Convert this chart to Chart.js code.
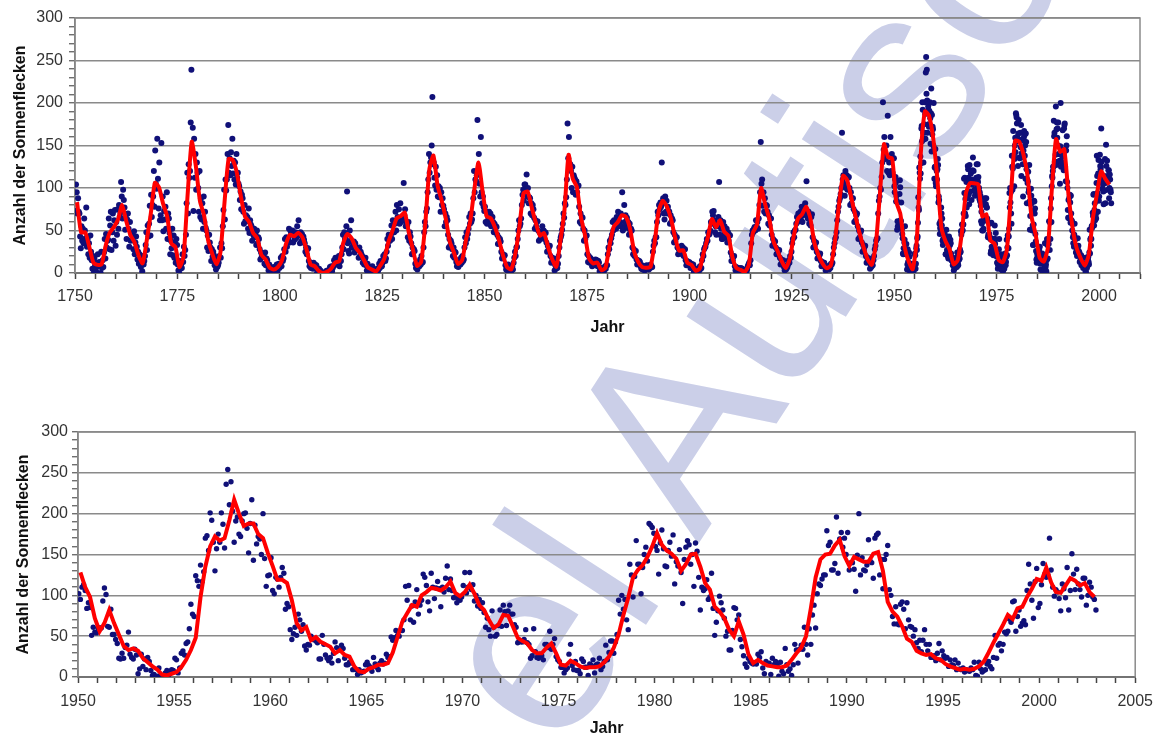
<!DOCTYPE html>
<html lang="de">
<head>
<meta charset="utf-8">
<title>Sonnenflecken 1750–2002</title>
<script src="https://cdn.jsdelivr.net/npm/chart.js@4.4.1/dist/chart.umd.min.js"></script>
<style>
  html, body { margin: 0; padding: 0; background: #fff; }
  #seite { position: relative; width: 1162px; height: 738px; overflow: hidden; }
  #wasserzeichen {
    position: absolute; left: 560px; top: 543px;
    font-family: "Liberation Sans", Arial, sans-serif; font-size: 253px; line-height: 1;
    color: #cbcfe8; white-space: nowrap;
    transform-origin: 0 214px; transform: rotate(-57deg);
  }
  canvas { position: absolute; left: 0; }
  #oben { top: 0; }
  #unten { top: 400px; }
</style>
</head>
<body>
<div id="seite">
  <div id="wasserzeichen">el Autisc</div>
  <canvas id="oben" width="1162" height="345"></canvas>
  <canvas id="unten" width="1162" height="338"></canvas>
</div>
<script>
// Jahresmittel 1750..2002 (rote Linie oben)
const jahresmittel = [
  83.4, 47.7, 47.8, 30.7, 12.2, 9.6, 10.2, 32.4, 47.6, 54.0,
  62.9, 80.0, 61.2, 45.1, 36.4, 20.9, 11.4, 37.8, 69.8, 106.1,
  100.8, 81.6, 66.5, 34.8, 30.6, 7.0, 19.8, 92.5, 154.4, 125.9,
  84.8, 68.1, 38.5, 22.8, 10.2, 24.1, 82.9, 134.0, 133.0, 118.1,
  89.9, 66.6, 60.0, 46.9, 41.0, 21.3, 16.0, 6.4, 4.1, 6.8,
  14.5, 34.0, 45.0, 43.1, 47.5, 42.2, 28.1, 10.1, 8.1, 2.5,
  0.0, 1.4, 5.0, 12.2, 13.9, 35.4, 45.8, 41.0, 30.1, 23.9,
  15.6, 6.6, 4.0, 1.8, 8.5, 16.6, 36.3, 49.6, 64.2, 67.0,
  70.9, 47.8, 27.5, 8.5, 13.2, 56.9, 121.5, 138.3, 103.2, 85.7,
  64.6, 36.7, 24.2, 10.7, 15.0, 40.1, 61.5, 98.5, 130.0, 96.3,
  66.6, 64.5, 54.1, 39.0, 20.6, 6.7, 4.3, 22.7, 54.8, 93.8,
  95.8, 77.2, 59.1, 44.0, 47.0, 30.5, 16.3, 7.3, 37.6, 74.0,
  139.0, 111.2, 101.6, 66.2, 44.7, 17.0, 11.3, 12.4, 3.4, 6.0,
  32.3, 54.3, 59.7, 68.0, 66.0, 52.2, 25.4, 13.1, 6.8, 6.3,
  7.1, 35.6, 73.0, 85.1, 78.0, 64.0, 41.8, 26.2, 26.7, 12.1,
  9.5, 2.7, 5.0, 24.4, 42.0, 63.5, 53.8, 62.0, 48.5, 43.9,
  18.6, 5.7, 3.6, 1.4, 9.6, 47.4, 57.1, 100.0, 80.6, 63.6,
  37.6, 26.1, 14.2, 5.8, 16.7, 44.3, 63.9, 69.0, 77.8, 64.9,
  35.7, 21.2, 11.1, 5.7, 8.7, 36.1, 79.7, 114.4, 109.6, 88.8,
  67.8, 47.5, 30.6, 16.3, 9.6, 33.2, 92.6, 151.6, 136.3, 134.7,
  83.9, 69.4, 31.5, 13.9, 4.4, 38.0, 141.7, 190.2, 184.8, 159.0,
  112.3, 53.9, 37.6, 27.9, 10.2, 15.1, 47.0, 93.8, 105.9, 105.5,
  104.5, 66.6, 68.9, 38.0, 34.5, 15.5, 12.6, 27.5, 92.5, 155.4,
  154.6, 140.4, 115.9, 66.6, 45.9, 17.9, 13.4, 29.4, 100.2, 157.6,
  142.6, 145.7, 94.3, 54.6, 29.9, 17.5, 8.6, 21.5, 64.3, 93.3,
  119.6, 111.0, 104.0
];

// Einzelwerte 1750..1949, sechs pro Jahr
const werte1750 = [
  // 1750
  73,104,95,70,88,72, 70,43,29,55,38,52, 35,64,50,41,77,31, 40,22,35,18,44,25, 15,5,20,0,18,9,
  3,12,0,22,8,13, 9,0,25,6,15,7, 24,40,17,46,30,38, 39,64,28,56,72,27, 48,70,38,62,74,32,
  // 1760
  60,45,75,52,80,66, 71,107,90,64,98,86, 77,51,68,40,63,70, 52,31,60,38,46,44, 40,28,49,22,36,43,
  31,16,25,11,22,20, 7,15,2,20,10,14, 20,33,48,27,56,43, 58,79,44,92,66,80, 90,120,78,144,105,99,
  // 1770
  158,111,76,130,62,68, 153,62,90,49,73,63, 78,52,95,40,70,64, 47,22,38,29,52,21, 44,18,36,12,40,33,
  10,3,0,14,5,10, 6,22,13,31,20,27, 45,82,118,70,128,112, 120,177,239,146,171,73, 158,112,140,98,130,118,
  // 1780
  100,72,120,66,88,63, 82,52,90,60,72,53, 50,30,44,26,45,36, 30,14,28,19,25,21, 9,14,4,18,7,9,
  12,20,30,18,35,29, 55,74,98,63,110,97, 110,140,174,118,135,115, 142,126,158,117,132,110, 130,104,140,112,118,105,
  // 1790
  102,86,96,75,92,88, 72,58,80,61,68,61, 66,52,76,47,62,57, 55,38,50,44,52,42, 46,33,50,35,42,40,
  28,16,24,19,22,19, 20,11,24,9,17,15, 8,3,10,5,7,5, 2,6,0,7,4,5, 4,10,2,8,11,6,
  // 1800
  10,18,8,20,14,17, 28,40,25,42,31,38, 40,52,36,50,47,45, 50,36,45,39,48,41, 42,55,47,62,44,35,
  48,37,46,40,43,39, 35,25,30,22,28,29, 14,8,12,6,11,10, 5,12,7,10,6,9, 0,4,2,5,1,3,
  // 1810
  0,0,0,0,0,0, 0,2,1,3,0,2, 3,7,4,8,2,6, 8,15,10,18,12,10, 17,10,20,8,14,14,
  22,30,45,28,48,40, 40,55,96,35,26,23, 50,38,62,30,36,30, 37,24,35,28,30,27, 28,18,30,20,25,22,
  // 1820
  20,12,18,10,16,18, 9,3,11,4,7,6, 2,6,0,8,4,4, 0,3,0,1,5,2, 4,11,6,14,8,8,
  12,20,15,22,14,17, 25,40,32,45,38,38, 44,56,40,62,48,48, 58,72,50,80,66,59, 75,58,82,60,64,63,
  // 1830
  62,106,68,75,55,59, 56,42,60,38,48,43, 35,22,30,24,28,26, 11,6,12,4,9,9, 8,16,10,20,12,13,
  30,48,60,55,72,76, 95,110,140,118,130,136, 150,207,128,130,112,103, 125,98,115,90,102,89, 100,72,95,80,88,79,
  // 1840
  75,55,70,60,66,62, 45,30,40,32,38,35, 28,20,30,18,25,24, 13,8,15,7,11,10, 10,18,12,20,14,16,
  30,42,35,48,40,46, 52,66,58,70,60,63, 70,88,120,95,110,108, 115,180,118,140,105,90, 160,95,82,90,78,73,
  // 1850
  78,60,72,58,68,64, 72,58,70,55,66,66, 60,48,58,50,55,54, 45,34,42,36,40,37, 25,17,22,18,21,21,
  9,4,8,3,10,6, 2,6,1,5,8,4, 12,18,25,20,30,31, 40,50,62,55,58,64, 80,92,98,85,104,104,
  // 1860
  98,116,90,100,82,89, 88,70,82,68,80,75, 65,52,62,55,60,61, 50,38,48,40,46,42, 55,42,50,40,48,47,
  36,25,32,27,31,32, 20,12,18,14,17,17, 3,9,5,10,6,11, 20,30,38,42,45,51, 58,70,65,82,80,89,
  // 1870
  110,176,135,160,125,128, 120,100,125,95,115,112, 110,92,108,95,102,103, 78,60,70,58,66,65, 52,38,50,40,44,44,
  22,13,20,12,18,17, 14,8,15,9,12,10, 16,9,15,8,14,12, 2,5,0,6,3,4, 1,4,8,5,9,9,
  // 1880
  22,30,28,38,35,41, 45,60,50,62,52,57, 52,66,55,72,58,55, 60,70,55,95,50,52, 80,60,68,55,65,53,
  60,45,58,48,52,50, 30,22,28,20,26,26, 16,10,15,11,14,13, 8,5,9,4,7,8, 3,8,5,9,6,7,
  // 1890
  4,9,6,10,7,7, 25,32,38,35,42,42, 60,72,68,80,75,83, 78,130,82,88,70,63, 90,72,85,70,78,73,
  72,58,68,60,64,62, 48,36,45,38,42,42, 30,22,28,24,26,27, 32,22,30,20,28,28, 15,9,14,10,12,13,
  // 1900
  12,6,11,8,10,10, 1,4,0,5,3,3, 2,6,3,8,5,6, 15,22,20,28,30,31, 35,40,38,48,45,46,
  50,60,58,72,68,73, 62,48,55,45,58,55, 66,107,45,62,52,40, 40,60,45,55,42,49, 52,36,48,38,45,44,
  // 1910
  24,14,20,15,19,20, 8,3,7,4,6,6, 2,5,1,6,3,5, 0,2,1,3,0,2, 4,8,10,12,9,15,
  35,45,50,48,52,54, 50,62,55,60,52,64, 80,95,154,105,110,79, 95,72,88,70,80,79, 72,58,68,56,64,64,
  // 1920
  45,32,40,34,38,37, 30,22,28,24,26,27, 18,10,16,12,14,15, 7,3,8,4,6,7, 10,15,12,20,18,25,
  35,40,48,42,50,51, 58,66,60,70,62,67, 72,62,78,60,68,74, 70,82,75,108,68,64, 72,58,68,56,66,69,
  // 1930
  42,30,38,32,36,36, 25,17,23,18,21,23, 14,8,13,9,11,12, 7,3,8,4,6,6, 4,9,6,11,10,12,
  22,30,35,40,42,48, 62,72,78,85,88,93, 100,165,110,115,105,91, 120,100,115,98,112,113, 100,80,95,82,88,88,
  // 1940
  75,60,72,62,68,70, 55,40,50,42,48,50, 36,25,33,27,31,32, 20,12,18,14,17,17, 5,10,7,12,9,15,
  20,28,32,38,40,41, 70,85,90,100,98,113, 130,201,145,160,140,134, 150,120,185,118,130,115, 160,120,140,118,135,135
];

// Monatswerte 1950..2002
const monate1950 = [
  102,95,110,113,106,84,91,85,51,61,55,54,
  60,60,60,93,109,101,62,61,83,52,52,46,
  41,23,22,29,23,36,39,55,28,24,22,34,
  27,4,10,28,13,22,9,24,19,8,2,3,
  0,1,11,2,1,0,5,8,2,7,9,8,
  23,21,5,11,29,32,27,41,43,59,89,77,
  74,124,118,111,137,117,129,170,173,155,201,192,
  165,130,157,175,165,201,187,158,236,254,211,239,
  203,165,191,196,175,172,191,200,201,182,152,188,
  217,143,186,163,172,169,150,200,145,111,124,125,
  146,106,102,122,120,110,122,134,127,83,90,86,
  58,46,53,61,51,77,70,56,64,38,33,40,
  39,50,46,46,44,42,22,22,51,40,27,23,
  20,24,17,29,43,36,20,33,39,35,23,15,
  15,18,17,9,10,9,3,9,5,6,7,15,
  18,14,12,7,24,16,12,9,17,20,16,17,
  28,24,25,49,45,48,57,51,50,57,57,70,
  111,94,112,70,87,67,92,107,77,88,94,126,
  122,112,92,81,127,110,96,109,117,108,86,110,
  104,121,136,107,120,106,97,98,91,96,94,98,
  112,128,103,110,128,107,113,93,100,87,95,84,
  91,79,61,72,58,50,81,61,50,52,63,82,
  62,88,80,63,81,88,77,77,64,61,42,45,
  43,43,46,58,42,40,23,26,59,31,24,23,
  28,26,21,40,40,36,56,34,40,47,25,21,
  19,12,12,5,9,11,28,40,14,9,19,8,
  8,4,22,19,12,12,2,16,14,21,5,15,
  16,23,9,13,19,39,21,30,44,44,29,43,
  52,94,77,100,83,95,70,58,138,125,98,123,
  167,138,138,102,134,150,159,142,188,186,183,176,
  160,155,126,164,180,157,136,135,155,165,148,174,
  114,141,136,156,128,90,144,159,167,162,138,150,
  111,164,154,122,82,110,106,108,119,95,98,127,
  84,51,67,81,99,91,82,72,50,56,33,33,
  57,85,84,70,76,46,37,26,16,12,23,19,
  17,16,17,16,28,24,31,11,4,19,16,17,
  3,23,15,19,14,1,18,7,4,35,15,7,
  10,2,15,40,33,17,34,39,34,61,40,27,
  59,40,76,88,60,102,114,112,120,125,125,179,
  161,165,131,131,139,196,127,169,177,159,170,150,
  177,131,140,140,132,105,149,200,125,146,131,130,
  137,168,142,140,121,170,174,176,125,144,108,144,
  150,161,107,100,74,65,86,65,64,89,92,83,
  59,91,70,62,61,50,58,42,35,45,31,45,
  58,40,32,40,24,24,26,20,29,41,21,32,
  26,23,24,13,21,15,14,21,9,17,10,9,
  11,6,9,8,7,11,9,18,2,1,18,10,
  6,8,9,16,19,13,10,24,51,23,39,41,
  32,40,55,53,56,71,67,92,93,56,74,82,
  62,66,69,64,106,138,114,94,72,117,133,85,
  90,113,139,126,122,125,170,131,110,99,107,104,
  96,81,114,108,97,134,82,106,151,126,107,132,
  114,107,98,121,121,88,100,116,110,98,95,82
];

// geglaettete Werte 1950..2002, vier pro Jahr (rote Linie unten)
const glatt1950 = [
  128,110,98,72, 56,66,82,66, 52,38,33,35, 32,23,18,13, 9,3,2,4,
  6,12,21,33, 48,98,135,160, 172,167,170,192, 217,200,185,188, 188,175,170,152,
  136,119,119,115, 94,66,57,61, 45,49,43,40, 37,29,33,27, 25,13,7,6,
  10,12,15,15, 17,30,49,68, 78,88,86,100, 104,109,108,106, 110,117,103,99,
  104,113,102,88, 82,70,60,64, 76,75,62,48, 44,41,33,29, 29,36,41,29,
  15,14,20,17, 13,11,12,12, 13,18,25,36, 52,76,97,122, 131,137,147,160,
  176,162,155,151, 145,130,138,150, 151,135,115,107, 86,80,72,58, 50,68,52,28,
  17,21,17,14, 13,12,12,14, 21,29,36,50, 84,122,144,150, 151,161,168,148,
  136,147,144,141, 141,151,153,130, 92,80,74,62, 47,43,32,29, 27,28,23,21,
  16,13,11,9, 10,9,10,13, 19,30,42,53, 64,76,71,84, 86,98,108,120,
  118,134,116,104, 103,112,121,118, 112,115,104,98
];

const yMarken = [0, 50, 100, 150, 200, 250, 300];
const jahreOben = [1750, 1775, 1800, 1825, 1850, 1875, 1900, 1925, 1950, 1975, 2000];
const jahreUnten = [1950, 1955, 1960, 1965, 1970, 1975, 1980, 1985, 1990, 1995, 2000, 2005];

Chart.defaults.font.family = '"Liberation Sans", Arial, sans-serif';
Chart.defaults.color = '#333';

// Punkte aufbauen
const punkteOben = [];
werte1750.forEach((v, i) => punkteOben.push({ x: 1750 + (i + 0.5) / 6, y: v }));
monate1950.forEach((v, i) => punkteOben.push({ x: 1950 + (i + 0.5) / 12, y: v }));
const linieOben = jahresmittel.map((v, i) => ({ x: 1750 + i + 0.5, y: v }));

const punkteUnten = monate1950.map((v, i) => ({ x: 1950 + (i + 0.5) / 12, y: v }));
const linieUnten = glatt1950.map((v, i) => ({ x: 1950 + i / 4 + 0.125, y: v }));

// grauer Rahmen um die Zeichenflaeche
const rahmen = {
  id: 'rahmen',
  beforeDatasetsDraw(chart) {
    const { ctx, chartArea: a } = chart;
    ctx.save();
    ctx.strokeStyle = '#8a8a8a';
    ctx.lineWidth = 1.5;
    ctx.strokeRect(a.left, a.top, a.right - a.left, a.bottom - a.top);
    ctx.restore();
  }
};

function diagramm(id, cfg) {
  return new Chart(document.getElementById(id), {
    type: 'scatter',
    data: {
      datasets: [
        {
          type: 'line',
          data: cfg.linie,
          borderColor: '#ff0000',
          borderWidth: 4,
          pointRadius: 0,
          tension: cfg.spannung,
          order: 0
        },
        {
          type: 'scatter',
          data: cfg.punkte,
          backgroundColor: '#101078',
          pointRadius: cfg.radius,
          pointBorderWidth: 0,
          order: 1
        }
      ]
    },
    options: {
      responsive: false,
      animation: false,
      devicePixelRatio: 1,
      layout: { padding: { left: 0, right: 22, top: cfg.oben, bottom: 0 } },
      plugins: { legend: { display: false }, tooltip: { enabled: false } },
      scales: {
        x: {
          type: 'linear',
          min: cfg.xMin,
          max: cfg.xMax,
          afterFit: s => { s.height = cfg.xHoehe; },
          ticks: {
            stepSize: cfg.xSchritt,
            autoSkip: false,
            maxRotation: 0,
            padding: cfg.xPad,
            color: '#333',
            font: { size: 16 },
            callback: v => cfg.xLabels.includes(v) ? String(v) : ''
          },
          grid: { drawOnChartArea: false, tickLength: 6, tickColor: '#444', tickWidth: 1.5 },
          border: { color: '#333', width: 2 },
          title: {
            display: true,
            text: 'Jahr',
            color: '#111',
            font: { size: 16, weight: 'bold' },
            padding: { top: 0, bottom: cfg.titelX }
          }
        },
        y: {
          min: 0,
          max: 300,
          afterFit: s => { s.width = cfg.yBreite; },
          ticks: {
            stepSize: 10,
            autoSkip: false,
            padding: cfg.yPad,
            color: '#333',
            font: { size: 16 },
            callback: v => yMarken.includes(v) ? String(v) : ''
          },
          grid: {
            color: c => yMarken.includes(c.tick.value) ? '#8a8a8a' : 'rgba(0,0,0,0)',
            lineWidth: 1.5,
            tickLength: 6,
            tickColor: '#555',
            tickWidth: 1.2
          },
          border: { color: '#777', width: 1.5 },
          title: {
            display: true,
            text: 'Anzahl der Sonnenflecken',
            color: '#111',
            font: { size: 16, weight: 'bold' },
            padding: { top: cfg.titelY, bottom: 0 }
          }
        }
      }
    },
    plugins: [rahmen]
  });
}

diagramm('oben', {
  punkte: punkteOben, linie: linieOben, radius: 3, spannung: 0.2,
  xMin: 1750, xMax: 2010, xSchritt: 5, xLabels: jahreOben,
  oben: 18, xHoehe: 72, yBreite: 75, xPad: 8, yPad: 6, titelX: 8, titelY: 11
});

diagramm('unten', {
  punkte: punkteUnten, linie: linieUnten, radius: 2.7, spannung: 0,
  xMin: 1950, xMax: 2005, xSchritt: 1, xLabels: jahreUnten,
  oben: 32, xHoehe: 61, yBreite: 78, xPad: 9, yPad: 4, titelX: 0, titelY: 14
});
</script>
</body>
</html>
